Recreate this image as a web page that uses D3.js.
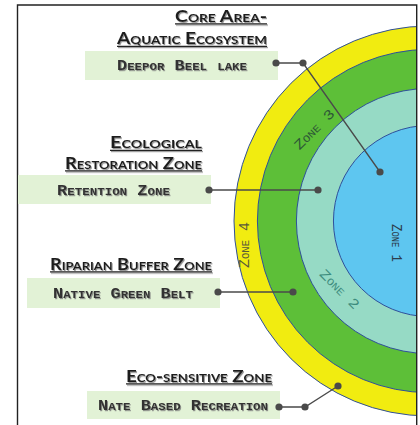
<!DOCTYPE html>
<html><head><meta charset="utf-8">
<script src="https://cdn.jsdelivr.net/npm/d3@7"></script>
<style>
html,body{margin:0;padding:0;background:#fff;}
svg{display:block;}
</style>
</head><body>
<script>
// ---- data ----
const zoneNames = ["Zone 1", "Zone 2", "Zone 3", "Zone 4"];
const zoneOuter = [0.49, 0.68, 0.88, 1.0];          // relative outer radius of each ring
const zoneColors = ["#5ec6f0", "#96dac5", "#5dbf38", "#f1ec10"];
const zoneTextColors = ["#2c3d4c", "#3d8c7d", "#2d5636", "#5a5a3a"];
const headings = [["Core Area-", "Aquatic Ecosystem"], ["Ecological", "Restoration Zone"], ["Riparian Buffer Zone"], ["Eco-sensitive Zone"]];
const boxLabels = ["Deepor Beel lake", "Retention Zone", "Native Green Belt", "Nate Based Recreation"];

// ---- layout ----
const W = 420, H = 425;
const cx = 429, cy = 221;
const r = d3.scaleLinear().domain([0, 1]).range([0, 195]);

const svg = d3.select("body").append("svg").attr("width", W).attr("height", H);
const defs = svg.append("defs");
defs.append("clipPath").attr("id", "frameClip").append("rect")
  .attr("x", 18).attr("y", 5).attr("width", 398.5).attr("height", 420);
const f = defs.append("filter").attr("id", "sh").attr("x", "-10%").attr("y", "-30%").attr("width", "130%").attr("height", "180%");
f.append("feDropShadow").attr("dx", 1).attr("dy", 1.2).attr("stdDeviation", 0.6)
  .attr("flood-color", "#777").attr("flood-opacity", 0.8);

// rings
const rings = svg.append("g").attr("clip-path", "url(#frameClip)");
const order = d3.range(zoneNames.length).reverse();
rings.selectAll("circle").data(order).join("circle")
  .attr("cx", cx).attr("cy", cy)
  .attr("r", i => r(zoneOuter[i]))
  .attr("fill", i => zoneColors[i])
  .attr("stroke", "#2f4f9a").attr("stroke-width", 1);

// zone labels
const zoneLabelPos = [
  {x: 397, y: 243, rot: 90, len: 38},
  {x: 340, y: 289, rot: 45, len: 50},
  {x: 314, y: 129, rot: -45, len: 51},
  {x: 244, y: 245, rot: -90, len: 46}
];
rings.selectAll("text.zone").data(zoneNames).join("text")
  .attr("class", "zone")
  .attr("transform", (d, i) => `translate(${zoneLabelPos[i].x},${zoneLabelPos[i].y}) rotate(${zoneLabelPos[i].rot})`)
  .attr("text-anchor", "middle").attr("dy", "0.35em")
  .attr("textLength", (d, i) => zoneLabelPos[i].len).attr("lengthAdjust", "spacingAndGlyphs")
  .style("font-family", "'Liberation Mono', 'DejaVu Sans Mono', monospace")
  .style("font-variant", "small-caps")
  .style("font-size", "14px")
  .attr("fill", (d, i) => zoneTextColors[i])
  .text(d => d);

// frame
svg.append("path")
  .attr("d", "M17.5,425 L17.5,5 L416.7,5 L416.7,425")
  .attr("fill", "none").attr("stroke", "#222").attr("stroke-width", 1.4);

// callout groups
const groupLayout = [
  {hx: 267, hb: [21.5, 44], hl: [92, 150], box: [85, 51, 193, 29], tx: 117, tb: 70, tl: 130,
   pts: [[276, 63], [303, 63], [380, 172]]},
  {hx: 202, hb: [148, 168.5], hl: [92, 137], box: [18, 175, 193, 29], tx: 57, tb: 195, tl: 113,
   pts: [[209, 190], [318, 190]]},
  {hx: 212, hb: [269.5], hl: [162], box: [27, 278, 193, 30], tx: 53, tb: 298, tl: 140,
   pts: [[218, 292], [293, 292]]},
  {hx: 272, hb: [381.5], hl: [146], box: [87, 391, 193, 28], tx: 98, tb: 410, tl: 170,
   pts: [[279, 407], [305, 407], [338, 386]]}
];

boxLabels.forEach((label, i) => {
  const L = groupLayout[i];
  const g = svg.append("g");
  // headings
  headings[i].forEach((h, j) => {
    const hg = g.append("g").attr("filter", "url(#sh)");
    hg.append("text")
      .attr("x", L.hx).attr("y", L.hb[j])
      .attr("text-anchor", "end")
      .attr("textLength", L.hl[j]).attr("lengthAdjust", "spacingAndGlyphs")
      .style("font-family", "Lato, 'Open Sans', sans-serif")
      .style("font-weight", "bold")
      .style("font-variant", "small-caps")
      .style("font-size", "17px")
      .attr("fill", "#1e1e1e")
      .text(h);
    hg.append("line")
      .attr("x1", L.hx - L.hl[j]).attr("x2", L.hx)
      .attr("y1", L.hb[j] + 2.3).attr("y2", L.hb[j] + 2.3)
      .attr("stroke", "#222").attr("stroke-width", 1.3);
  });
  // box
  g.append("rect")
    .attr("x", L.box[0]).attr("y", L.box[1]).attr("width", L.box[2]).attr("height", L.box[3])
    .attr("fill", "#e2f2d6");
  g.append("text")
    .attr("x", L.tx).attr("y", L.tb)
    .attr("textLength", L.tl).attr("lengthAdjust", "spacingAndGlyphs")
    .attr("filter", "url(#sh)")
    .style("font-family", "'Liberation Mono', 'DejaVu Sans Mono', monospace")
    .style("font-weight", "bold")
    .style("font-variant", "small-caps")
    .style("font-size", "15px")
    .attr("fill", "#333")
    .text(label);
  // connector
  g.append("path")
    .attr("d", d3.line()(L.pts))
    .attr("fill", "none").attr("stroke", "#4a4a4a").attr("stroke-width", 1.3);
  g.selectAll("circle").data(L.pts).join("circle")
    .attr("cx", d => d[0]).attr("cy", d => d[1]).attr("r", 3.6)
    .attr("fill", "#4a4a4a");
});
</script>
</body></html>
